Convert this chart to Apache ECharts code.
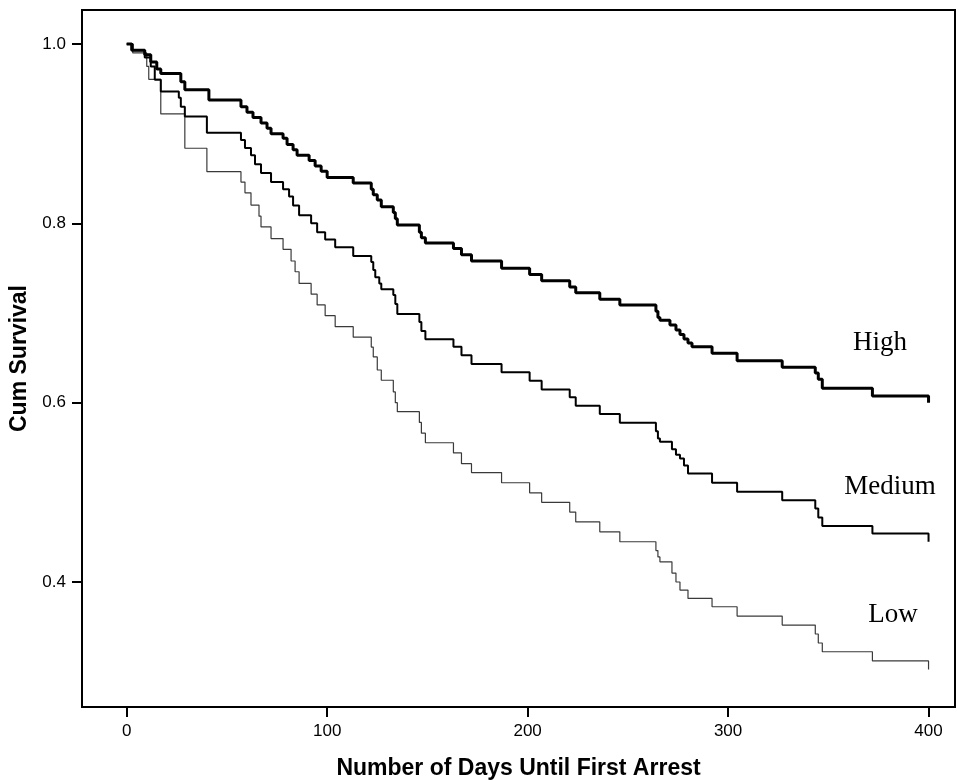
<!DOCTYPE html>
<html>
<head>
<meta charset="utf-8">
<script src="https://cdn.jsdelivr.net/npm/echarts@6/dist/echarts.min.js"></script>
<style>
html,body{margin:0;padding:0;background:#fff;}
#chart{width:961px;height:780px;}
</style>
</head>
<body>
<div id="chart"></div>
<script>
// Kaplan-Meier steps: [day, survival after drop]
const highSteps = [
  [0,1.0],[2.5,0.993],[9,0.988],[12,0.98],[15,0.972],[17,0.967],[27,0.958],[29,0.949],
  [41,0.9375],[57,0.93],[60,0.924],[63,0.918],[67,0.912],[70,0.906],[72,0.90],[78,0.895],
  [80,0.888],[83,0.882],[85,0.876],[91,0.87],[94,0.864],[97,0.858],[100,0.851],[113,0.845],
  [122,0.838],[123,0.832],[125,0.826],[127,0.8185],[133,0.812],[134,0.805],[135,0.798],
  [146,0.79],[147,0.784],[149,0.778],[163,0.772],[167,0.765],[172,0.758],[187,0.75],
  [201,0.743],[207,0.736],[221,0.729],[224,0.7226],[236,0.7152],[246,0.709],[264,0.702],
  [265,0.695],[266,0.692],[271,0.6866],[274,0.681],[276,0.676],[278,0.671],[280,0.6665],
  [282,0.6624],[292,0.655],[304.5,0.6468],[327,0.6394],[343.5,0.633],[345,0.626],
  [347,0.616],[372,0.6074],[400,0.600]
];
const mediumSteps = [
  [0,1.0],[3,0.993],[9,0.985],[12,0.975],[14,0.96],[17,0.947],[26,0.94],[27,0.93],[29,0.919],
  [40,0.901],[57,0.893],[59,0.884],[62,0.876],[64,0.866],[67,0.856],[72,0.846],[78,0.838],
  [81,0.83],[83,0.82],[86,0.809],[92,0.80],[95,0.79],[99,0.782],[104,0.7732],[113,0.7635],
  [122,0.757],[123,0.748],[124,0.74],[126,0.733],[127,0.7264],[133,0.72],[134,0.71],
  [135,0.699],[146,0.69],[147,0.68],[149,0.6706],[163,0.6624],[167,0.653],[172,0.643],
  [187,0.6338],[201,0.6245],[207,0.6148],[221,0.606],[224,0.5966],[236,0.5873],[246,0.5776],
  [264,0.568],[265,0.56],[266,0.5564],[272,0.548],[274,0.542],[276,0.5378],[278,0.53],
  [280,0.5211],[292,0.5107],[304.5,0.5006],[327,0.4913],[343.5,0.482],[345,0.472],
  [347,0.4624],[372,0.4542],[400,0.4449]
];
const lowSteps = [
  [0,1.0],[3,0.99],[10,0.975],[11,0.9606],[17,0.922],[29,0.8837],[40,0.8576],[57,0.846],
  [59,0.834],[62,0.8204],[66,0.808],[67,0.796],[72,0.783],[78,0.771],[82,0.758],[84,0.746],
  [86,0.733],[92,0.721],[95,0.709],[99,0.697],[104,0.6847],[113,0.673],[122,0.662],
  [123,0.651],[125,0.6364],[127,0.625],[133,0.612],[134,0.6],[135,0.59],[146,0.578],
  [147,0.566],[149,0.5553],[163,0.544],[167,0.532],[172,0.522],[187,0.5107],[201,0.4995],
  [207,0.4888],[221,0.478],[224,0.467],[236,0.456],[246,0.4449],[264,0.435],[265,0.428],
  [266,0.4225],[272,0.41],[274,0.40],[276,0.391],[280,0.3817],[292,0.3724],[304.5,0.362],
  [327,0.352],[343.5,0.342],[345,0.332],[347,0.3222],[372,0.312],[400,0.3025]
];
const xTicks = [0,100,200,300,400];
const yTicks = [0.4,0.6,0.8,1.0];
const groupNames = ['High','Medium','Low'];

const chart = echarts.init(document.getElementById('chart'), null, {renderer:'canvas'});
const option = {
  backgroundColor:'#fff',
  animation:false,
  grid:{left:82, top:10, right:6, bottom:73, containLabel:false, outerBoundsMode:'none',
    show:true, borderColor:'#000', borderWidth:2, backgroundColor:'transparent'},
  xAxis:{
    type:'value', min:-22.3, max:413.2,
    name:'Number of Days Until First Arrest', nameLocation:'middle', nameGap:50,
    nameTextStyle:{fontFamily:'Liberation Sans, Arial, sans-serif', fontWeight:'bold', fontSize:23, color:'#000'},
    axisLine:{show:true, onZero:false, lineStyle:{color:'#000', width:2}},
    axisTick:{show:true, length:10, lineStyle:{color:'#000', width:2}, customValues:xTicks},
    axisLabel:{customValues:xTicks, margin:16, fontFamily:'Liberation Sans, Arial, sans-serif', fontSize:17, color:'#000'},
    splitLine:{show:false}
  },
  yAxis:{
    type:'value', min:0.2606, max:1.0379,
    name:'Cum Survival', nameLocation:'middle', nameGap:45, nameRotate:90,
    nameTextStyle:{fontFamily:'Liberation Sans, Arial, sans-serif', fontWeight:'bold', fontSize:23, color:'#000'},
    axisLine:{show:true, onZero:false, lineStyle:{color:'#000', width:2}},
    axisTick:{show:true, length:10, lineStyle:{color:'#000', width:2}, customValues:yTicks},
    axisLabel:{customValues:yTicks, margin:16, fontFamily:'Liberation Sans, Arial, sans-serif', fontSize:17, color:'#000',
      formatter:v=>v.toFixed(1)},
    splitLine:{show:false}
  },
  series:[
    {name:groupNames[0], type:'line', step:'end', data:highSteps, symbol:'none', lineStyle:{color:'#000', width:3}, z:4},
    {name:groupNames[1], type:'line', step:'end', data:mediumSteps, symbol:'none', lineStyle:{color:'#000', width:2}, z:3},
    {name:groupNames[2], type:'line', step:'end', data:lowSteps, symbol:'none', lineStyle:{color:'#3a3a3a', width:1.2}, z:2}
  ],
  graphic:[
    {type:'text', x:880, y:343, style:{text:groupNames[0], font:'27px "Liberation Serif", "Times New Roman", serif', fill:'#000', align:'center', verticalAlign:'middle'}},
    {type:'text', x:890, y:487, style:{text:groupNames[1], font:'27px "Liberation Serif", "Times New Roman", serif', fill:'#000', align:'center', verticalAlign:'middle'}},
    {type:'text', x:893, y:615, style:{text:groupNames[2], font:'27px "Liberation Serif", "Times New Roman", serif', fill:'#000', align:'center', verticalAlign:'middle'}}
  ]
};
chart.setOption(option);
</script>
</body>
</html>
